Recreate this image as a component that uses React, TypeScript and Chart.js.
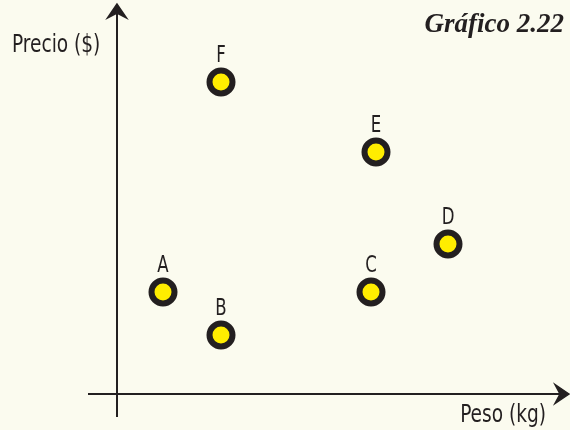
import React, { useEffect, useRef } from "react";
import { Chart, registerables } from "chart.js";

Chart.register(...registerables);

// Data (arbitrary units: weight on x, price on y)
const labels = ["A", "B", "C", "D", "E", "F"];
const pesoValues = [2.3, 5.2, 12.7, 16.55, 12.95, 5.2];
const precioValues = [5.1, 2.95, 5.1, 7.5, 12.1, 15.6];

const titleText = "Gráfico 2.22";
const yAxisTitle = "Precio ($)";
const xAxisTitle = "Peso (kg)";

const BG = "#fbfbef";
const INK = "#231f20";
const YELLOW = "#ffed00";
const NARROW = '"Liberation Sans Narrow", "DejaVu Sans Condensed", "DejaVu Sans", sans-serif';

function arrowHead(ctx: CanvasRenderingContext2D, x: number, y: number, angle: number) {
  ctx.save();
  ctx.translate(x, y);
  ctx.rotate(angle);
  ctx.beginPath();
  ctx.moveTo(1, 0);
  ctx.lineTo(-13, -9.5);
  ctx.lineTo(-8, 0);
  ctx.lineTo(-13, 9.5);
  ctx.closePath();
  ctx.fillStyle = INK;
  ctx.fill();
  ctx.lineWidth = 1.5;
  ctx.strokeStyle = INK;
  ctx.lineJoin = "miter";
  ctx.stroke();
  ctx.restore();
}

function narrowText(ctx: CanvasRenderingContext2D, text: string, x: number, y: number, size: number, align: CanvasTextAlign, squeeze: number) {
  ctx.save();
  ctx.translate(x, y);
  ctx.scale(squeeze, 1);
  ctx.font = `${size}px ${NARROW}`;
  ctx.textAlign = align;
  ctx.textBaseline = "alphabetic";
  ctx.fillText(text, 0, 0);
  ctx.restore();
}

const decorPlugin = {
  id: "decor",
  beforeDraw(chart: any) {
    const ctx = chart.ctx as CanvasRenderingContext2D;
    ctx.save();
    ctx.fillStyle = BG;
    ctx.fillRect(0, 0, chart.width, chart.height);
    ctx.restore();
  },
  beforeDatasetsDraw(chart: any) {
    const ctx = chart.ctx as CanvasRenderingContext2D;
    const xs = chart.scales.x;
    const ys = chart.scales.y;
    const x0 = xs.getPixelForValue(0);
    const y0 = ys.getPixelForValue(0);
    const { left, right, top, bottom } = chart.chartArea;
    ctx.save();
    ctx.strokeStyle = INK;
    ctx.lineWidth = 2;
    ctx.beginPath();
    ctx.moveTo(left, y0);
    ctx.lineTo(right - 8, y0);
    ctx.stroke();
    ctx.beginPath();
    ctx.moveTo(x0, bottom);
    ctx.lineTo(x0, top + 8);
    ctx.stroke();
    arrowHead(ctx, right - 1, y0, 0);
    arrowHead(ctx, x0, top + 1, -Math.PI / 2);

    ctx.fillStyle = INK;
    narrowText(ctx, yAxisTitle, 12, 52, 24, "left", 0.86);
    narrowText(ctx, xAxisTitle, 546, 422, 24, "right", 0.86);

    ctx.font = 'italic bold 27px "Liberation Serif", "DejaVu Serif", serif';
    ctx.textAlign = "right";
    ctx.textBaseline = "alphabetic";
    ctx.fillText(titleText, 564, 32);
    ctx.restore();
  },
  afterDatasetsDraw(chart: any) {
    const ctx = chart.ctx as CanvasRenderingContext2D;
    const meta = chart.getDatasetMeta(0);
    ctx.save();
    ctx.fillStyle = INK;
    meta.data.forEach((pt: any, i: number) => {
      narrowText(ctx, labels[i], pt.x, pt.y - 20.5, 23, "center", 0.8);
    });
    ctx.restore();
  },
};

export default function App() {
  const ref = useRef<HTMLCanvasElement | null>(null);

  useEffect(() => {
    if (!ref.current) return;
    const chart = new Chart(ref.current, {
      type: "scatter",
      data: {
        datasets: [
          {
            label: "Productos",
            data: pesoValues.map((x, i) => ({ x, y: precioValues[i] })),
            backgroundColor: YELLOW,
            borderColor: INK,
            pointRadius: 11.5,
            pointBorderWidth: 6,
            pointHoverRadius: 11.5,
          },
        ],
      },
      options: {
        responsive: false,
        animation: false,
        layout: { autoPadding: false, padding: { left: 88, right: 1, top: 4, bottom: 13 } },
        scales: {
          x: { type: "linear", display: false, min: -1.45, max: 22.6 },
          y: { type: "linear", display: false, min: -1.15, max: 19.5 },
        },
        plugins: {
          legend: { display: false },
          tooltip: { enabled: false },
          title: { display: false },
        },
      },
      plugins: [decorPlugin],
    });
    return () => chart.destroy();
  }, []);

  return (
    <div style={{ position: "fixed", left: 0, top: 0, width: 570, height: 430, background: BG }}>
      <canvas ref={ref} width={570} height={430} style={{ display: "block" }} />
    </div>
  );
}
